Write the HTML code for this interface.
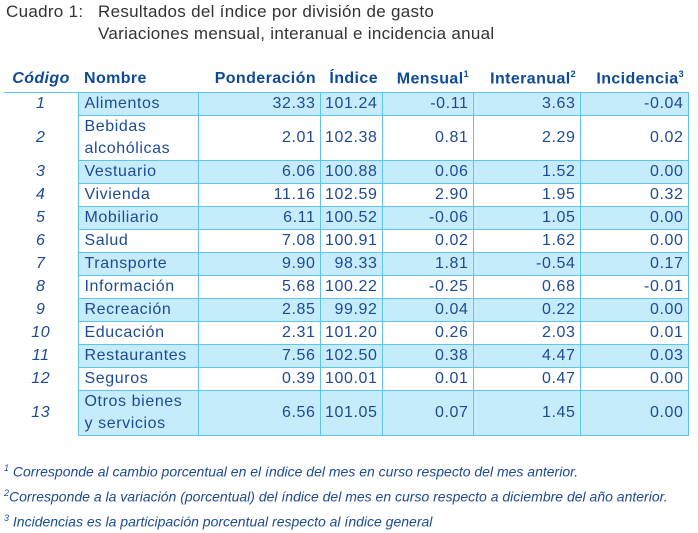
<!DOCTYPE html>
<html><head><meta charset="utf-8"><style>
body{margin:0;width:698px;height:533px;background:#fff;font-family:"Liberation Sans",sans-serif;color:#1d4a95;position:relative;overflow:hidden}
.t{position:absolute;left:6px;font-size:17px;color:#333;letter-spacing:0.3px}
table{position:absolute;left:4px;top:64px;border-collapse:collapse;table-layout:fixed;width:684px}
td,th{padding:0 4px;font-size:16px;white-space:nowrap;letter-spacing:0.6px}
th{height:26px;font-weight:bold;color:#0d4a98;text-align:right;border-bottom:1.5px solid #5cc4ef;vertical-align:middle;padding-top:2px;letter-spacing:0.4px}
td{border:1.5px solid #5cc4ef;text-align:right;height:21px;line-height:22px}
td.c{border:none;text-align:center;font-style:italic;border-top:none}
td.n{text-align:left;padding-left:6px}
tr.s td:not(.c){background:#c6ecfc}
tr.d td{height:44px}
.f{position:absolute;left:4px;font-size:14px;font-style:italic;color:#1d4a95;letter-spacing:0}
sup{font-size:9px}
</style></head><body>
<div class="t" style="top:2px">Cuadro 1:</div>
<div class="t" style="top:2px;left:98px">Resultados del índice por división de gasto</div>
<div class="t" style="top:24px;left:98px">Variaciones mensual, interanual e incidencia anual</div>
<table>
<colgroup><col style="width:74px"><col style="width:120px"><col style="width:122px"><col style="width:62px"><col style="width:91px"><col style="width:107px"><col style="width:108px"></colgroup>
<tr><th style="text-align:center;font-style:italic">Código</th><th style="text-align:left;padding-left:6px">Nombre</th><th>Ponderación</th><th>Índice</th><th>Mensual<sup>1</sup></th><th>Interanual<sup>2</sup></th><th>Incidencia<sup>3</sup></th></tr>
<tr class="s"><td class="c">1</td><td class="n">Alimentos</td><td>32.33</td><td>101.24</td><td>-0.11</td><td>3.63</td><td>-0.04</td></tr>
<tr class="d"><td class="c">2</td><td class="n">Bebidas<br>alcohólicas</td><td>2.01</td><td>102.38</td><td>0.81</td><td>2.29</td><td>0.02</td></tr>
<tr class="s"><td class="c">3</td><td class="n">Vestuario</td><td>6.06</td><td>100.88</td><td>0.06</td><td>1.52</td><td>0.00</td></tr>
<tr><td class="c">4</td><td class="n">Vivienda</td><td>11.16</td><td>102.59</td><td>2.90</td><td>1.95</td><td>0.32</td></tr>
<tr class="s"><td class="c">5</td><td class="n">Mobiliario</td><td>6.11</td><td>100.52</td><td>-0.06</td><td>1.05</td><td>0.00</td></tr>
<tr><td class="c">6</td><td class="n">Salud</td><td>7.08</td><td>100.91</td><td>0.02</td><td>1.62</td><td>0.00</td></tr>
<tr class="s"><td class="c">7</td><td class="n">Transporte</td><td>9.90</td><td>98.33</td><td>1.81</td><td>-0.54</td><td>0.17</td></tr>
<tr><td class="c">8</td><td class="n">Información</td><td>5.68</td><td>100.22</td><td>-0.25</td><td>0.68</td><td>-0.01</td></tr>
<tr class="s"><td class="c">9</td><td class="n">Recreación</td><td>2.85</td><td>99.92</td><td>0.04</td><td>0.22</td><td>0.00</td></tr>
<tr><td class="c">10</td><td class="n">Educación</td><td>2.31</td><td>101.20</td><td>0.26</td><td>2.03</td><td>0.01</td></tr>
<tr class="s"><td class="c">11</td><td class="n">Restaurantes</td><td>7.56</td><td>102.50</td><td>0.38</td><td>4.47</td><td>0.03</td></tr>
<tr><td class="c">12</td><td class="n">Seguros</td><td>0.39</td><td>100.01</td><td>0.01</td><td>0.47</td><td>0.00</td></tr>
<tr class="s d"><td class="c">13</td><td class="n">Otros bienes<br>y servicios</td><td>6.56</td><td>101.05</td><td>0.07</td><td>1.45</td><td>0.00</td></tr>
</table>
<div class="f" style="top:463px"><sup>1</sup> Corresponde al cambio porcentual en el índice del mes en curso respecto del mes anterior.</div>
<div class="f" style="top:488px"><sup>2</sup>Corresponde a la variación (porcentual) del índice del mes en curso respecto a diciembre del año anterior.</div>
<div class="f" style="top:513px"><sup>3</sup> Incidencias es la participación porcentual respecto al índice general</div>
</body></html>
